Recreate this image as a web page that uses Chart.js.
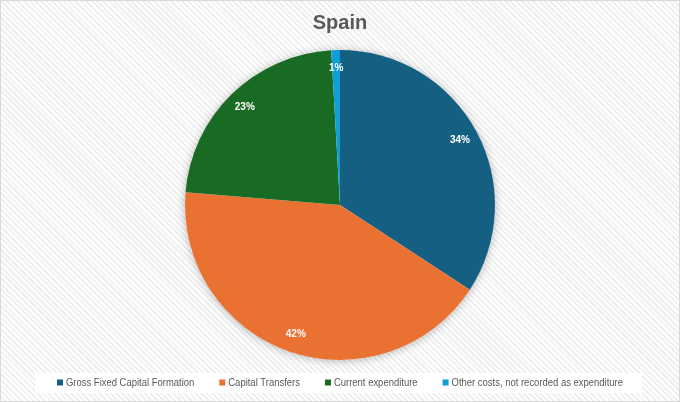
<!DOCTYPE html>
<html>
<head>
<meta charset="utf-8">
<script src="https://cdn.jsdelivr.net/npm/chart.js@4.4.1/dist/chart.umd.min.js"></script>
<style>
  html, body { margin: 0; padding: 0; }
  body { width: 680px; height: 402px; overflow: hidden; }
  .frame {
    position: relative;
    width: 678px; height: 400px;
    border: 1px solid #d9d9d9;
    background: repeating-linear-gradient(45deg, #ffffff 0px, #ffffff 2px, #efefef 2px, #efefef 4px);
  }
  .frame canvas { display: block; }
</style>
</head>
<body>
<div class="frame">
  <canvas id="pieChart" width="678" height="400"></canvas>
</div>
<script>
const categories = ['Gross Fixed Capital Formation', 'Capital Transfers', 'Current expenditure', 'Other costs, not recorded as expenditure'];
const shares = [34.2, 42.1, 22.8, 0.9];
const percentLabels = ['34%', '42%', '23%', '1%'];
const colors = ['#156082', '#E97132', '#196B24', '#0F9ED5'];

const ctx = document.getElementById('pieChart').getContext('2d');

// soft shadow behind the pie
const shadowPlugin = {
    id: 'pieShadow',
    beforeDatasetsDraw(chart) {
        const c = chart.ctx;
        const arc = chart.getDatasetMeta(0).data[0];
        if (!arc) return;
        const p = arc.getProps(['x', 'y', 'outerRadius'], true);
        c.save();
        c.shadowColor = 'rgba(0,0,0,0.28)';
        c.shadowBlur = 9;
        c.shadowOffsetY = 1;
        c.fillStyle = '#ffffff';
        c.beginPath();
        c.arc(p.x, p.y, p.outerRadius, 0, Math.PI * 2);
        c.fill();
        c.restore();
    }
};

// condensed legend row at the bottom, on a white band
const legendPlugin = {
    id: 'narrowLegend',
    layoutItems(chart) {
        const c = chart.ctx;
        c.save();
        c.font = '11px "Liberation Sans", Arial, sans-serif';
        const squeeze = 0.86, box = 6, gap = 3, spacing = 25;
        const items = chart.data.labels.map((lbl, i) => ({
            text: lbl,
            color: chart.data.datasets[0].backgroundColor[i],
            w: c.measureText(lbl).width * squeeze
        }));
        c.restore();
        const total = items.reduce((s, it) => s + box + gap + it.w, 0) + spacing * (items.length - 1);
        let x = chart.width / 2 - total / 2;
        items.forEach(it => { it.x = x; x += box + gap + it.w + spacing; });
        return { items, squeeze, box, gap, total };
    },
    beforeDraw(chart) {
        const L = this.layoutItems(chart);
        const x0 = L.items[0].x;
        const c = chart.ctx;
        c.save();
        c.fillStyle = '#ffffff';
        c.fillRect(x0 - 22, 372, L.total + 41, 20);
        c.restore();
    },
    afterDraw(chart) {
        const L = this.layoutItems(chart);
        const c = chart.ctx;
        const y = 381.5;
        c.save();
        c.font = '11px "Liberation Sans", Arial, sans-serif';
        c.textBaseline = 'middle';
        L.items.forEach(it => {
            c.fillStyle = it.color;
            c.fillRect(it.x, y - 3, L.box, L.box);
            c.save();
            c.translate(it.x + L.box + L.gap, y);
            c.scale(L.squeeze, 1);
            c.fillStyle = '#595959';
            c.fillText(it.text, 0, 0);
            c.restore();
        });
        c.restore();
    }
};

// percentage labels inside the slices
const labelPlugin = {
    id: 'sliceLabels',
    afterDatasetsDraw(chart) {
        const c = chart.ctx;
        const meta = chart.getDatasetMeta(0);
        c.save();
        c.fillStyle = '#ffffff';
        c.font = 'bold 10px "Liberation Sans", Arial, sans-serif';
        c.textAlign = 'center';
        c.textBaseline = 'middle';
        meta.data.forEach((arc, i) => {
            const p = arc.getProps(['x', 'y', 'startAngle', 'endAngle', 'outerRadius'], true);
            const mid = (p.startAngle + p.endAngle) / 2;
            const r = p.outerRadius * 0.88;
            c.fillText(percentLabels[i], p.x + Math.cos(mid) * r, p.y + Math.sin(mid) * r);
        });
        c.restore();
    }
};

const chart = new Chart(ctx, {
    type: 'pie',
    data: {
        labels: categories,
        datasets: [{
            data: shares,
            backgroundColor: colors,
            borderWidth: 0,
            radius: 155
        }]
    },
    options: {
        responsive: false,
        animation: false,
        layout: {
            padding: { top: 0, bottom: 41, left: 0, right: 0 }
        },
        plugins: {
            title: {
                display: true,
                text: 'Spain',
                color: '#595959',
                font: { family: '"Liberation Sans", Arial, sans-serif', size: 20, weight: 'bold' },
                padding: { top: 10, bottom: 15 }
            },
            legend: { display: false },
            tooltip: { enabled: false }
        }
    },
    plugins: [shadowPlugin, legendPlugin, labelPlugin]
});
</script>
</body>
</html>
